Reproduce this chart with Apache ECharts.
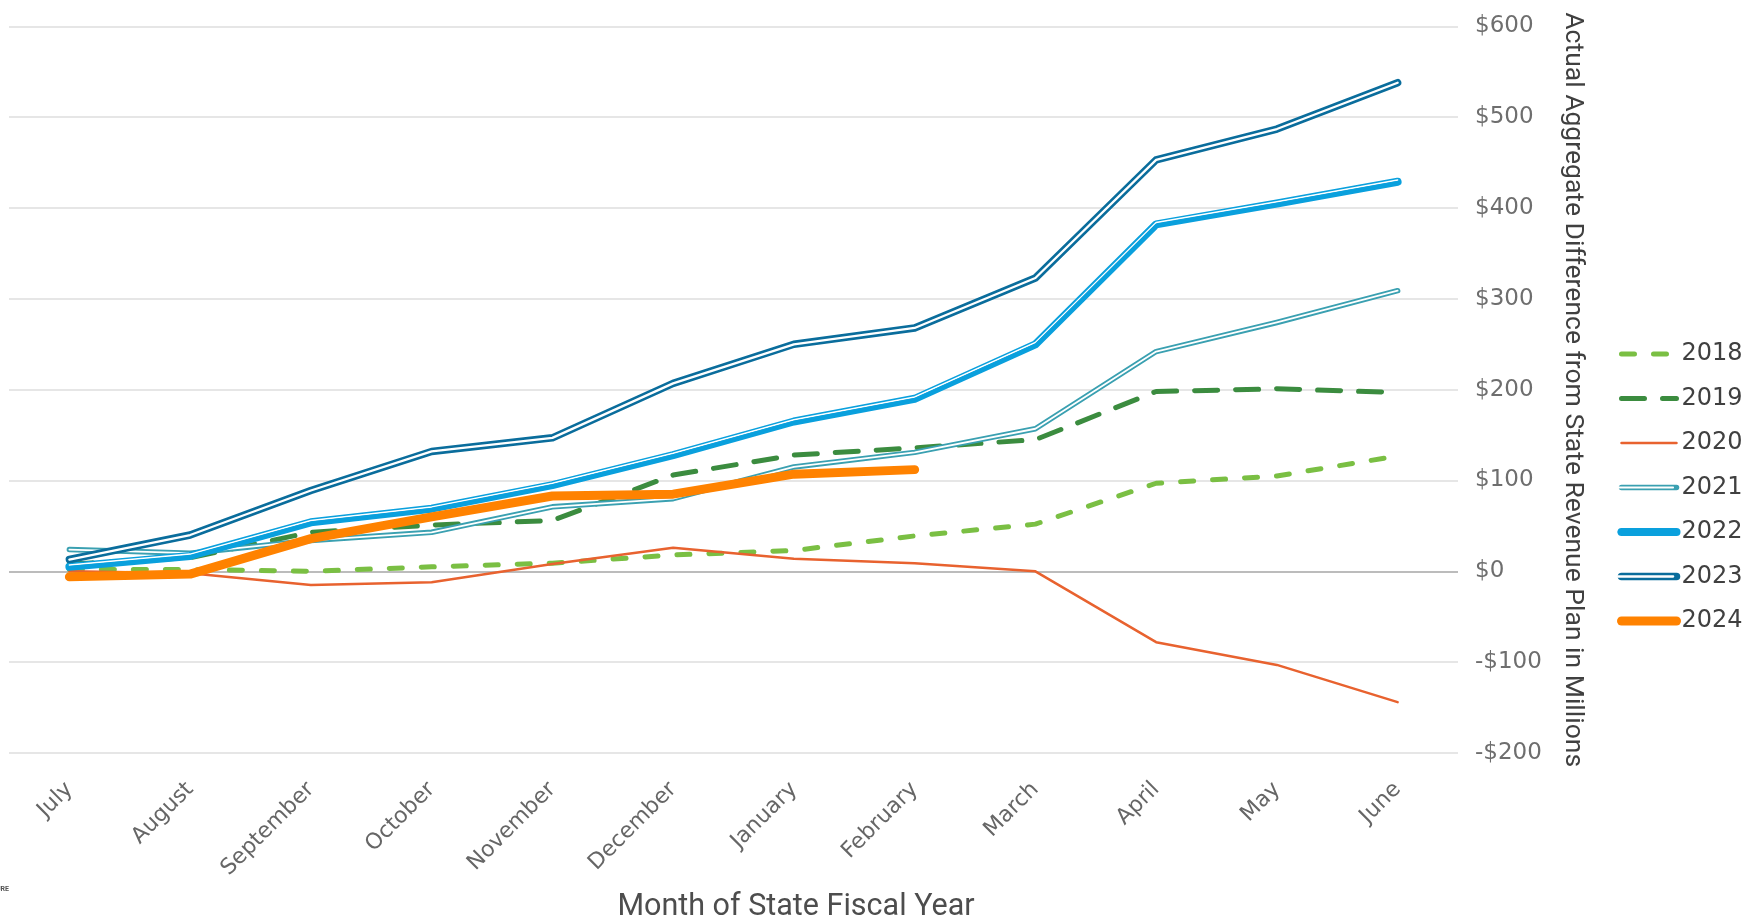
<!DOCTYPE html>
<html>
<head>
<meta charset="utf-8">
<title>Actual Aggregate Difference from State Revenue Plan</title>
<script src="https://cdn.jsdelivr.net/npm/echarts@6/dist/echarts.min.js"></script>
<style>
  html, body { margin: 0; padding: 0; background: #fff; }
  #chart { width: 1752px; height: 920px; }
</style>
</head>
<body>
<div id="chart"></div>
<script>
// month of state fiscal year
const months = ['July', 'August', 'September', 'October', 'November', 'December',
  'January', 'February', 'March', 'April', 'May', 'June'];

// difference from revenue plan, $ millions
const fy2018 = [2, 2, 0, 5, 9, 18, 23, 39, 52, 97, 105, 127];
const fy2019 = [8, 15, 43, 51, 56, 106, 128, 136, 145, 198, 201, 197];
const fy2020 = [0, -2, -15, -12, 8, 26, 14, 9, 0, -78, -103, -144];
const fy2021 = [24, 20, 34, 43, 71, 80, 115, 131, 157, 242, 274, 309];
const fy2022 = [5, 17, 54, 69, 95, 128, 165, 190, 250, 382, 405, 429];
const fy2023 = [13, 40, 89, 132, 147, 207, 250, 268, 323, 453, 487, 538];
const fy2024 = [-6, -3, 36, 60, 83, 85, 107, 112, null, null, null, null];

const yTicks = { min: -200, max: 600, step: 100 };

const chart = echarts.init(document.getElementById('chart'));

function line(name, data, lineStyle, z) {
  return {
    name: name,
    type: 'line',
    data: data,
    symbol: 'none',
    z: z,
    silent: true,
    itemStyle: { color: lineStyle.color },
    lineStyle: Object.assign({ cap: 'round', join: 'round' }, lineStyle)
  };
}

const series = [
  line('2018', fy2018, { color: '#7abf43', width: 5, type: [13, 19] }, 2),
  line('2019', fy2019, { color: '#3b8c3f', width: 5, type: [23, 18] }, 3),
  line('2020', fy2020, { color: '#e8622f', width: 2.5 }, 4),
  line('2021', fy2021, { color: '#3aa0b1', width: 5.5 }, 5),
  line('w2021', fy2021, { color: '#ffffff', width: 1.8 }, 6),
  line('2022', fy2022, { color: '#0aa0dd', width: 8 }, 7),
  // thin-thick compound: white stripe drawn as an offset shadow
  line('w2022', fy2022, { color: '#0aa0dd', width: 1.5, shadowColor: '#ffffff', shadowBlur: 0, shadowOffsetY: -1.8 }, 8),
  line('2023', fy2023, { color: '#0a6d9c', width: 7.5 }, 9),
  line('w2023', fy2023, { color: '#ffffff', width: 2.3 }, 10),
  line('2024', fy2024, { color: '#ff8200', width: 9 }, 11)
];

const gridColors = [];
for (let v = yTicks.min; v <= yTicks.max; v += yTicks.step) {
  gridColors.push(v === 0 ? '#a6a6a6' : '#dedede');
}

const legendBase = {
  orient: 'vertical',
  left: 1617,
  padding: 0,
  itemWidth: 55,
  itemHeight: 14,
  itemGap: 14.5,
  selectedMode: false,
  itemStyle: { opacity: 0 },
  lineStyle: { width: 'inherit' },
  textStyle: { fontFamily: 'DejaVu Sans', fontSize: 24, color: '#404040', lineHeight: 30 }
};

chart.setOption({
  animation: false,
  grid: { left: 9, right: 294, top: 26.4, bottom: 167 },
  legend: [
    Object.assign({}, legendBase, {
      top: 339,
      data: ['2018', '2019', '2020', '2021', '2022', '2023', '2024']
    }),
    Object.assign({}, legendBase, {
      top: 339 + 3 * 44.5,
      data: ['w2021', 'w2022', 'w2023'],
      formatter: function (n) { return n.slice(1); },
      textStyle: Object.assign({}, legendBase.textStyle, { color: 'rgba(0,0,0,0)' })
    })
  ],
  xAxis: {
    type: 'category',
    data: months,
    boundaryGap: true,
    axisLine: { show: false },
    axisTick: { show: false },
    axisLabel: {
      rotate: 45,
      margin: 33,
      interval: 0,
      fontFamily: 'DejaVu Sans',
      fontSize: 22,
      color: '#666666'
    }
  },
  yAxis: {
    type: 'value',
    position: 'right',
    min: yTicks.min,
    max: yTicks.max,
    interval: yTicks.step,
    name: 'Actual Aggregate Difference from State Revenue Plan in Millions',
    nameLocation: 'middle',
    nameRotate: -90,
    nameGap: 101,
    nameTextStyle: { fontFamily: 'Roboto', fontSize: 26.5, color: '#404040' },
    axisLine: { show: false },
    axisTick: { show: false },
    axisLabel: {
      align: 'left',
      margin: 17,
      fontFamily: 'DejaVu Sans',
      fontSize: 23,
      color: '#6e6e6e',
      formatter: function (v) { return v < 0 ? '-$' + (-v) : '$' + v; }
    },
    splitLine: { lineStyle: { color: gridColors, width: 1.5 } }
  },
  graphic: [
    {
      type: 'text', x: 796, y: 907,
      style: {
        text: 'Month of State Fiscal Year',
        textAlign: 'center', textVerticalAlign: 'middle',
        fontFamily: 'Roboto', fontSize: 30.5, fill: '#4d4d4d'
      }
    },
    {
      type: 'text', x: -4, y: 889,
      style: {
        text: 'URE', textVerticalAlign: 'middle',
        fontFamily: 'Roboto', fontWeight: 'bold', fontSize: 7, fill: '#555555'
      }
    }
  ],
  series: series
});
</script>
</body>
</html>
